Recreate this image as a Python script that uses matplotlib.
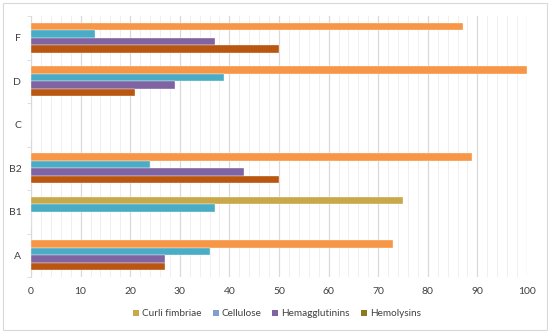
import matplotlib
matplotlib.use("Agg")
import matplotlib.pyplot as plt
import numpy as np
from matplotlib.patches import Rectangle, Patch
from matplotlib.ticker import MultipleLocator, FixedLocator

categories = ["A", "B1", "B2", "C", "D", "F"]
series_names = ["Curli fimbriae", "Cellulose", "Hemagglutinins", "Hemolysins"]
curli = [73, 75, 89, 0, 100, 87]
cellulose = [36, 37, 24, 0, 39, 13]
hemagglutinins = [27, 0, 43, 0, 29, 37]
hemolysins = [27, 0, 50, 0, 21, 50]
x_ticks = [0, 10, 20, 30, 40, 50, 60, 70, 80, 90, 100]

bar_colors = ["#F79646", "#4BACC6", "#8064A2", "#B9560F"]
legend_colors = ["#C9A84C", "#7F9FD2", "#8064A2", "#8A7A1C"]
# the B1 curli bar is drawn in the gold legend tone in the reference
curli_colors = ["#F79646", "#C9A84C", "#F79646", "#F79646", "#F79646", "#F79646"]

plt.rcParams['font.family'] = ['Lato', 'DejaVu Sans']

fig = plt.figure(figsize=(5.5, 3.33), dpi=100)
ax = fig.add_axes([31/550, 1-277/333, (527-31)/550, (277-16)/333])

y = np.arange(len(categories))
h = 0.172
data = [curli, cellulose, hemagglutinins, hemolysins]
colors = [curli_colors] + bar_colors[1:]
offsets = [1.5*h, 0.5*h, -0.5*h, -1.5*h]
for vals, off, col in zip(data, offsets, colors):
    ax.barh(y + off, vals, height=h, color=col, edgecolor="white", linewidth=0.25, zorder=3)

ax.set_xlim(0, 100)
ax.set_ylim(-0.5, len(categories) - 0.5)
ax.set_xticks(x_ticks)
ax.xaxis.set_minor_locator(MultipleLocator(2))
ax.grid(axis="x", which="major", color="#D9D9D9", linewidth=0.9, zorder=0)
ax.grid(axis="x", which="minor", color="#EFEFEF", linewidth=0.7, zorder=0)
ax.set_yticks(y)
ax.set_yticklabels(categories)
ax.yaxis.set_minor_locator(FixedLocator(np.arange(-0.5, len(categories), 1.0)))
ax.tick_params(axis="y", which="major", length=0, pad=7, labelsize=7.5, colors="#404040")
ax.tick_params(axis="y", which="minor", length=3, color="#D9D9D9", direction="out")
ax.tick_params(axis="x", which="both", length=0, pad=7, labelsize=7.5, colors="#404040")
for s in ["top", "right", "bottom"]:
    ax.spines[s].set_visible(False)
ax.spines["left"].set_color("#D9D9D9")
ax.spines["left"].set_linewidth(0.8)

handles = [Patch(facecolor=c, edgecolor="none") for c in legend_colors]
fig.legend(handles, series_names, loc="center", bbox_to_anchor=(277/550, 1-314/333), ncol=4,
           frameon=False, fontsize=7.2, handlelength=0.6, handleheight=0.6, handletextpad=0.3,
           columnspacing=1.1, labelcolor="#404040")

fig.patches.append(Rectangle((3/550, 3/333), 1-6/550, 1-6/333, transform=fig.transFigure,
                             fill=False, edgecolor="#D9D9D9", linewidth=0.8))

fig.savefig("out.png", dpi=100)
